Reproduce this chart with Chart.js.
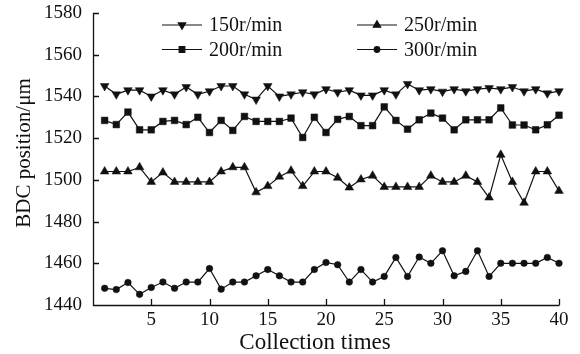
<!DOCTYPE html>
<html>
<head>
<meta charset="utf-8">
<script src="https://cdn.jsdelivr.net/npm/chart.js@4/dist/chart.umd.min.js"></script>
<style>
  html, body { margin: 0; padding: 0; background: #fff; }
  #wrap { width: 580px; height: 354px; }
</style>
</head>
<body>
<div id="wrap"><canvas id="bdc-chart"></canvas></div>
<script>
// collection index
const collectionTimes = [1, 2, 3, 4, 5, 6, 7, 8, 9, 10, 11, 12, 13, 14, 15, 16, 17, 18, 19, 20,
  21, 22, 23, 24, 25, 26, 27, 28, 29, 30, 31, 32, 33, 34, 35, 36, 37, 38, 39, 40];

// BDC position (um)
const rpm150 = [1545, 1541, 1543, 1543, 1540, 1543, 1541, 1544.5, 1541, 1542.5,
  1545, 1545, 1541, 1538.5, 1545, 1540, 1541, 1542, 1541, 1543.5,
  1542, 1543, 1540.5, 1540.5, 1543, 1541, 1546, 1543, 1543.5, 1542.3,
  1543.5, 1542.5, 1543.5, 1544, 1543.5, 1544.5, 1542.5, 1543.5, 1541.5, 1542.5];
const rpm200 = [1528.5, 1526.5, 1532.5, 1524, 1524, 1528, 1528.5, 1526.5, 1530, 1522.7,
  1528.5, 1523.7, 1530.4, 1528, 1528, 1528, 1529.6, 1520.3, 1530, 1522.7,
  1529, 1530.4, 1526, 1526, 1535, 1528.5, 1524.3, 1528.8, 1532, 1529.6,
  1524, 1528.8, 1528.8, 1528.8, 1534.5, 1526.3, 1526.3, 1524, 1526.4, 1531];
const rpm250 = [1504, 1504, 1504, 1506, 1499, 1503.5, 1499, 1499, 1499, 1499,
  1504, 1506, 1506, 1494, 1497, 1501.5, 1504.4, 1497, 1504, 1504,
  1501, 1496.3, 1500.2, 1502, 1496.6, 1496.6, 1496.6, 1496.6, 1502, 1499,
  1499, 1502, 1499, 1491.5, 1512, 1499, 1489, 1504, 1504, 1494.7];
const rpm300 = [1448, 1447.4, 1450.8, 1445.1, 1448.4, 1451, 1448, 1451, 1451, 1457.5,
  1447.6, 1451, 1451, 1454, 1457, 1454, 1451, 1451, 1457, 1460.4,
  1459.3, 1451, 1457, 1451, 1453.7, 1462.8, 1453.7, 1463, 1460, 1466,
  1454, 1456.1, 1466, 1453.7, 1460, 1460, 1460, 1460, 1462.8, 1460];

const seriesLabels = ["150r/min", "200r/min", "250r/min", "300r/min"];
const xTicks = [5, 10, 15, 20, 25, 30, 35, 40];
const yTicks = [1440, 1460, 1480, 1500, 1520, 1540, 1560, 1580];
const xTitle = 'Collection times';
const yTitle = 'BDC position/\u03bcm';

const FONT = '"Liberation Serif", "Times New Roman", serif';
const INK = '#111';

function pts(values) {
  return values.map((v, i) => ({ x: collectionTimes[i], y: v }));
}

function makeSet(label, values, style, radius, rotation) {
  return {
    label: label,
    data: pts(values),
    borderColor: INK,
    backgroundColor: INK,
    borderWidth: 1.2,
    pointStyle: style,
    pointRadius: radius,
    pointRotation: rotation,
    pointBackgroundColor: INK,
    pointBorderColor: INK,
    pointBorderWidth: 0.5,
    tension: 0,
    clip: false
  };
}

// inward tick marks, L-shaped axes and the two axis titles
const axesPlugin = {
  id: 'axesPlugin',
  afterDraw(chart) {
    const { ctx, chartArea: a, scales } = chart;
    ctx.save();
    ctx.strokeStyle = INK;
    ctx.lineWidth = 1.3;
    ctx.beginPath();
    yTicks.forEach(v => {
      const py = Math.round(scales.y.getPixelForValue(v)) + 0.5;
      ctx.moveTo(a.left, py);
      ctx.lineTo(a.left + 6, py);
    });
    xTicks.forEach(v => {
      const px = Math.round(scales.x.getPixelForValue(v)) + 0.5;
      ctx.moveTo(px, a.bottom);
      ctx.lineTo(px, a.bottom - 6);
    });
    ctx.moveTo(a.left + 0.5, a.top);
    ctx.lineTo(a.left + 0.5, a.bottom + 0.5);
    ctx.lineTo(a.right + 0.5, a.bottom + 0.5);
    ctx.stroke();

    ctx.fillStyle = INK;
    ctx.textAlign = 'center';
    ctx.textBaseline = 'alphabetic';
    ctx.font = '23px ' + FONT;
    ctx.fillText(xTitle, 315, 349);

    ctx.translate(30, 153);
    ctx.rotate(-Math.PI / 2);
    ctx.font = '21px ' + FONT;
    ctx.fillText(yTitle, 0, 0);
    ctx.restore();
  }
};

// two-column legend drawn inside the plot
const legendPlugin = {
  id: 'legendPlugin',
  afterDraw(chart) {
    const { ctx } = chart;
    const spots = [
      { i: 0, x: 162, y: 25 },
      { i: 2, x: 357, y: 25 },
      { i: 1, x: 162, y: 49.5 },
      { i: 3, x: 357, y: 49.5 }
    ];
    ctx.save();
    spots.forEach(s => {
      const ds = chart.data.datasets[s.i];
      ctx.strokeStyle = INK;
      ctx.lineWidth = 1.2;
      ctx.beginPath();
      ctx.moveTo(s.x, s.y);
      ctx.lineTo(s.x + 40, s.y);
      ctx.stroke();
      ctx.fillStyle = INK;
      Chart.helpers.drawPoint(ctx, {
        pointStyle: ds.pointStyle,
        radius: ds.pointRadius * 0.85,
        rotation: ds.pointRotation,
        borderWidth: 0.5
      }, s.x + 20, s.y);
      ctx.fillStyle = INK;
      ctx.font = '20px ' + FONT;
      ctx.textBaseline = 'middle';
      ctx.textAlign = 'left';
      ctx.fillText(ds.label, s.x + 47, s.y + 1);
    });
    ctx.restore();
  }
};

new Chart(document.getElementById('bdc-chart').getContext('2d'), {
  type: 'line',
  data: {
    datasets: [
      makeSet(seriesLabels[0], rpm150, 'triangle', 5, 180),
      makeSet(seriesLabels[1], rpm200, 'rect', 4.7, 0),
      makeSet(seriesLabels[2], rpm250, 'triangle', 5, 0),
      makeSet(seriesLabels[3], rpm300, 'circle', 3.3, 0)
    ]
  },
  options: {
    responsive: true,
    maintainAspectRatio: false,
    animation: false,
    events: [],
    layout: { padding: { left: 0, right: 21, top: 0, bottom: 0 } },
    plugins: {
      legend: { display: false },
      tooltip: { enabled: false }
    },
    scales: {
      x: {
        type: 'linear',
        min: 0,
        max: 40,
        afterBuildTicks(scale) {
          scale.ticks = xTicks.map(v => ({ value: v }));
        },
        afterFit(scale) { scale.height = 49; },
        grid: { display: false, drawTicks: false },
        border: { display: false },
        ticks: {
          color: INK,
          padding: 4,
          maxRotation: 0,
          callback: v => String(v),
          font: { family: FONT, size: 19 }
        }
      },
      y: {
        min: 1440,
        max: 1580,
        afterBuildTicks(scale) {
          scale.ticks = yTicks.map(v => ({ value: v }));
        },
        afterFit(scale) {
          scale.width = 93;
          scale.paddingTop = 13;
          scale.paddingBottom = 0;
        },
        grid: { display: false, drawTicks: false },
        border: { display: false },
        ticks: {
          color: INK,
          padding: 11,
          callback: v => String(v),
          font: { family: FONT, size: 19 }
        }
      }
    }
  },
  plugins: [axesPlugin, legendPlugin]
});
</script>
</body>
</html>
